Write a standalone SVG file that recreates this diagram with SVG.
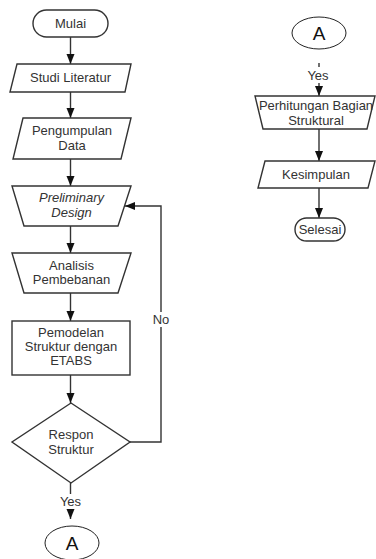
<svg xmlns="http://www.w3.org/2000/svg" width="376" height="559" viewBox="0 0 376 559">
<style>
.s{fill:#fff;stroke:#333;stroke-width:1.4}
.e{fill:#fff;stroke:#222;stroke-width:1}
.t{font-family:"Liberation Sans",Arial,sans-serif;font-size:13px;fill:#333;text-anchor:middle}
.big{font-family:"Liberation Sans",Arial,sans-serif;font-size:19px;fill:#111;text-anchor:middle}
.c{fill:none;stroke:#333;stroke-width:1.4}
</style>
<defs>
<marker id="ah" markerUnits="userSpaceOnUse" markerWidth="10" markerHeight="10" viewBox="0 0 10 10" refX="10" refY="5" orient="auto">
<path d="M0,1 L10,5 L0,9 Z" fill="#111"/>
</marker>
</defs>
<rect width="376" height="559" fill="#fff"/>
<g id="connectors">
<line class="c" x1="70.5" y1="37" x2="70.5" y2="64" marker-end="url(#ah)"/>
<line class="c" x1="70.5" y1="92" x2="70.5" y2="118" marker-end="url(#ah)"/>
<line class="c" x1="70.5" y1="159" x2="70.5" y2="186" marker-end="url(#ah)"/>
<line class="c" x1="70.5" y1="226" x2="70.5" y2="253" marker-end="url(#ah)"/>
<line class="c" x1="70.5" y1="293" x2="70.5" y2="321" marker-end="url(#ah)"/>
<line class="c" x1="70.5" y1="375" x2="70.5" y2="403" marker-end="url(#ah)"/>
<line class="c" x1="70.5" y1="483" x2="70.5" y2="519" marker-end="url(#ah)"/>
<rect x="58" y="494" width="26" height="15" fill="#fff"/>
<text class="t" x="70.5" y="506">Yes</text>
<polyline class="c" points="130,442 161,442 161,206 125,206" marker-end="url(#ah)"/>
<rect x="152" y="312" width="18" height="15" fill="#fff"/>
<text class="t" x="161" y="324">No</text>
<line class="c" x1="319" y1="63" x2="319" y2="96" marker-end="url(#ah)"/>
<rect x="306" y="67" width="26" height="16" fill="#fff"/>
<text class="t" x="318" y="80">Yes</text>
<line class="c" x1="319" y1="129" x2="319" y2="161" marker-end="url(#ah)"/>
<line class="c" x1="319" y1="188" x2="319" y2="218" marker-end="url(#ah)"/>
</g>
<g id="mulai">
<rect class="s" x="33" y="10" width="75" height="27" rx="13.5"/>
<text class="t" x="70.5" y="28">Mulai</text>
</g>
<g id="studi-literatur">
<polygon class="s" points="17,64 131,64 125,92 10,92"/>
<text class="t" x="70.5" y="82">Studi Literatur</text>
</g>
<g id="pengumpulan-data">
<polygon class="s" points="23,118 131,118 121,159 13,159"/>
<text class="t" x="72" y="134.5">Pengumpulan</text>
<text class="t" x="72" y="149.5">Data</text>
</g>
<g id="preliminary-design">
<polygon class="s" points="12,186 131,186 118,226 24,226"/>
<text class="t" x="71.5" y="201.5" font-style="italic">Preliminary</text>
<text class="t" x="71.5" y="216.5" font-style="italic">Design</text>
</g>
<g id="analisis-pembebanan">
<polygon class="s" points="12,253 131,253 118,293 24,293"/>
<text class="t" x="71.5" y="269.5">Analisis</text>
<text class="t" x="71.5" y="283.5">Pembebanan</text>
</g>
<g id="pemodelan">
<rect class="s" x="12" y="321" width="118" height="54"/>
<text class="t" x="71" y="336.5">Pemodelan</text>
<text class="t" x="71" y="350.5">Struktur dengan</text>
<text class="t" x="71" y="364.5">ETABS</text>
</g>
<g id="respon-struktur">
<polygon class="s" points="71,403 130,442 71,483 12,442"/>
<text class="t" x="71" y="438.5">Respon</text>
<text class="t" x="71" y="453.5">Struktur</text>
</g>
<g id="connector-a-left">
<ellipse class="e" cx="72" cy="543" rx="27" ry="17"/>
<text class="big" x="72" y="550">A</text>
</g>
<g id="connector-a-right">
<ellipse class="e" cx="319" cy="33" rx="27" ry="16"/>
<text class="big" x="319" y="40">A</text>
</g>
<g id="perhitungan">
<polygon class="s" points="255,96 375,96 367,129 263,129"/>
<text class="t" x="316" y="110">Perhitungan Bagian</text>
<text class="t" x="316" y="124.5">Struktural</text>
</g>
<g id="kesimpulan">
<polygon class="s" points="265,161 375,161 368,188 258,188"/>
<text class="t" x="316" y="178.5">Kesimpulan</text>
</g>
<g id="selesai">
<rect class="s" x="295" y="218" width="50" height="23" rx="11.5"/>
<text class="t" x="320" y="234">Selesai</text>
</g>
</svg>
